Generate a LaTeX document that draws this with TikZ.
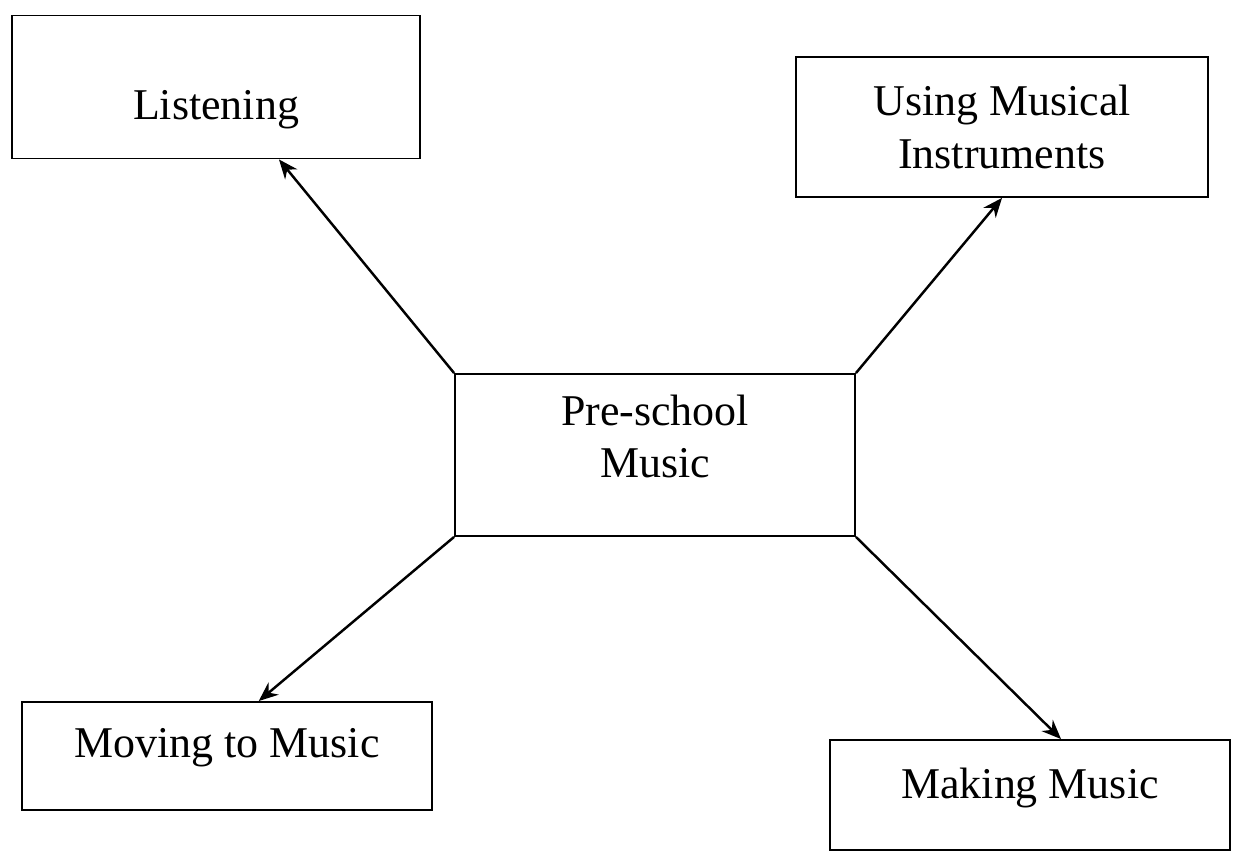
\documentclass[tikz,border=0pt]{standalone}
\usepackage{fontspec}
\setmainfont{Liberation Serif}
\usetikzlibrary{arrows.meta,positioning}
\tikzset{
  topic/.style = {shape=rectangle, draw, line width=1.1pt, align=center,
                  inner sep=0pt, font=\fontsize{25}{30}\selectfont},
  hub/.style   = {topic, minimum width=8cm, minimum height=3.24cm}
}

\begin{document}
\begin{tikzpicture}[x=0.02cm,y=-0.02cm,->,>={Stealth[length=11pt,width=9pt]},line width=1.4pt]
\useasboundingbox (0,0) rectangle (1239,854);
\node [hub] (pre) at (655,455) {\raisebox{8pt}[\height][\depth]{\begin{tabular}{c}Pre-school\\Music\end{tabular}}};
\node [topic, minimum width=8.16cm, minimum height=2.86cm] (listen) at (216,87) {\raisebox{-13pt}[\height][\depth]{Listening}};
\node [topic, minimum width=8.24cm, minimum height=2.8cm] (instr) at (1002,127) {Using Musical\\Instruments};
\node [topic, minimum width=8.2cm, minimum height=2.16cm] (moving) at (227,756) {\raisebox{5pt}[\height][\depth]{Moving to Music}};
\node [topic, minimum width=8cm, minimum height=2.2cm] (making) at (1030,795) {\raisebox{4pt}[\height][\depth]{Making Music}};
\draw (pre.north west) -- (listen.-49);
\draw (pre.north east) -- (instr.south);
\draw (pre.south west) -- (moving.60);
\draw (pre.south east) -- (making.61);
\end{tikzpicture}
\end{document}
